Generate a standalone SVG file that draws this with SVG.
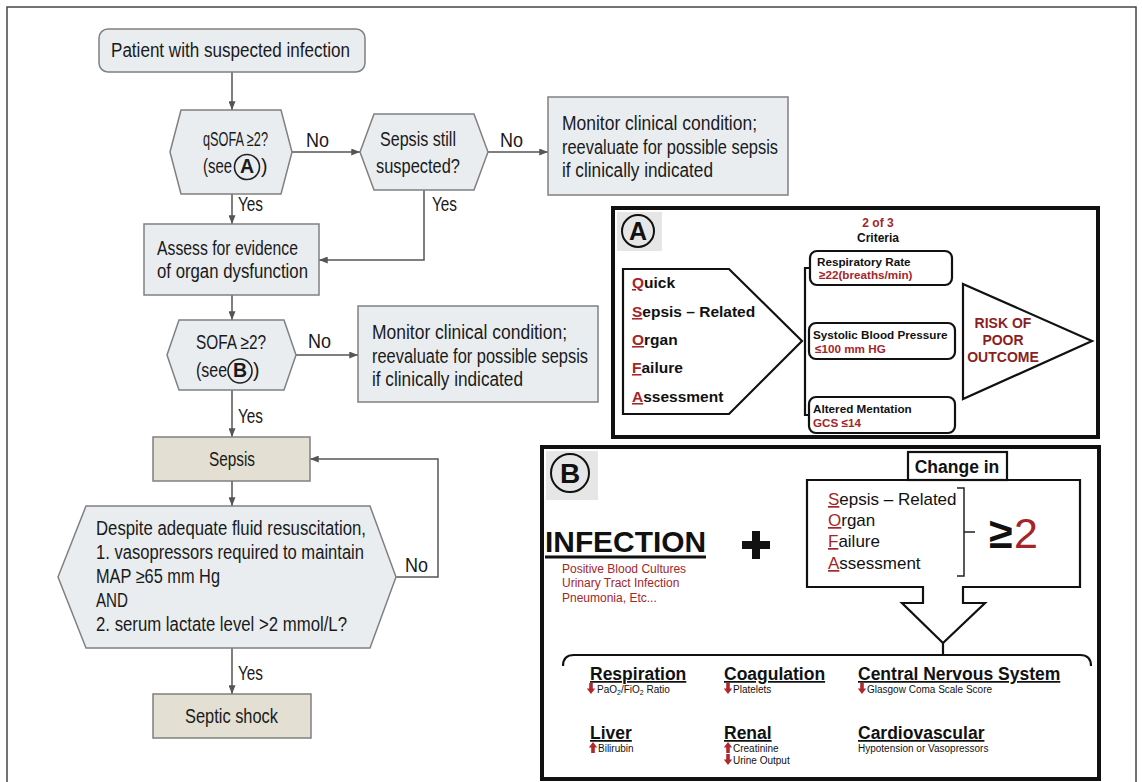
<svg xmlns="http://www.w3.org/2000/svg" xmlns:xlink="http://www.w3.org/1999/xlink" width="1142" height="782" viewBox="0 0 1142 782">
<defs>
<marker id="ah" viewBox="0 0 10 8" refX="10" refY="4" markerWidth="9" markerHeight="7" markerUnits="userSpaceOnUse" orient="auto"><path d="M0,0 L10,4 L0,8 Z" fill="#555"/></marker>
<path id="dn" d="M-1.8,-10 H1.8 V-4.5 H4.2 L0,1 L-4.2,-4.5 H-1.8 Z" fill="#b0282c"/>
<path id="up" d="M-1.8,1 H1.8 V-4.5 H4.2 L0,-10 L-4.2,-4.5 H-1.8 Z" fill="#b0282c"/>
<style>
.fbox{fill:#e9edf0;stroke:#808080;stroke-width:1.5}
.tbox{fill:#e3dfd2;stroke:#808080;stroke-width:1.5}
.ft{font-family:"Liberation Sans",Arial,sans-serif;font-size:19.5px;fill:#1a1a1a}
.lbl{font-family:"Liberation Sans",Arial,sans-serif;font-size:19.5px;fill:#1a1a1a}
.conn{fill:none;stroke:#555;stroke-width:1.5}
.pan{fill:#fff;stroke:#111;stroke-width:4}
.ln{fill:none;stroke:#111;stroke-width:2.2}
.ar{font-family:"Liberation Sans",Arial,sans-serif;fill:#111}
.b{font-weight:bold}
.red{fill:#a3262a}
.ul{text-decoration:underline}
.circ{fill:none;stroke:#222;stroke-width:1.6}
</style>
</defs>
<rect width="1142" height="782" fill="#fff"/>
<rect x="7" y="7" width="1129" height="800" fill="none" stroke="#444" stroke-width="1.5"/>

<g id="connectors">
<path class="conn" d="M232,72 V110" marker-end="url(#ah)"/>
<path class="conn" d="M292,152 H360" marker-end="url(#ah)"/>
<path class="conn" d="M488,152 H548" marker-end="url(#ah)"/>
<path class="conn" d="M232,194 V224" marker-end="url(#ah)"/>
<path class="conn" d="M424,190 V260 H319" marker-end="url(#ah)"/>
<path class="conn" d="M232,295 V320" marker-end="url(#ah)"/>
<path class="conn" d="M296,355 H358" marker-end="url(#ah)"/>
<path class="conn" d="M232,390 V437" marker-end="url(#ah)"/>
<path class="conn" d="M232,481 V506" marker-end="url(#ah)"/>
<path class="conn" d="M396,577 H438 V459 H310" marker-end="url(#ah)"/>
<path class="conn" d="M232,648 V694" marker-end="url(#ah)"/>
<text class="lbl" x="306" y="147" textLength="23" lengthAdjust="spacingAndGlyphs">No</text>
<text class="lbl" x="500" y="147" textLength="23" lengthAdjust="spacingAndGlyphs">No</text>
<text class="lbl" x="238" y="211" textLength="25" lengthAdjust="spacingAndGlyphs">Yes</text>
<text class="lbl" x="432" y="211" textLength="25" lengthAdjust="spacingAndGlyphs">Yes</text>
<text class="lbl" x="308" y="348" textLength="23" lengthAdjust="spacingAndGlyphs">No</text>
<text class="lbl" x="238" y="423" textLength="25" lengthAdjust="spacingAndGlyphs">Yes</text>
<text class="lbl" x="405" y="572" textLength="23" lengthAdjust="spacingAndGlyphs">No</text>
<text class="lbl" x="238" y="680" textLength="25" lengthAdjust="spacingAndGlyphs">Yes</text>
</g>

<g id="patient">
<rect x="99" y="29" width="266" height="43" rx="9" class="fbox"/>
<text class="ft" x="111" y="57" textLength="239" lengthAdjust="spacingAndGlyphs">Patient with suspected infection</text>
</g>

<g id="qsofa">
<polygon class="fbox" points="170,152 181,110 281,110 292,152 281,194 181,194"/>
<text class="ft" x="203" y="146" textLength="65" lengthAdjust="spacingAndGlyphs">qSOFA ≥2?</text>
<text class="ft" x="203" y="173" textLength="29" lengthAdjust="spacingAndGlyphs">(see</text>
<circle class="circ" cx="247" cy="167" r="12.5"/>
<text class="ft b" x="247" y="173" font-size="15" text-anchor="middle">A</text>
<text class="ft" x="261" y="173">)</text>
</g>

<g id="sepsis-suspected">
<polygon class="fbox" points="360,152 374,114 474,114 488,152 474,190 374,190"/>
<text class="ft" x="380" y="146" textLength="76" lengthAdjust="spacingAndGlyphs">Sepsis still</text>
<text class="ft" x="376" y="173" textLength="84" lengthAdjust="spacingAndGlyphs">suspected?</text>
</g>

<g id="monitor1">
<rect x="548" y="97" width="240" height="98" class="fbox"/>
<text class="ft" x="562" y="130" textLength="195" lengthAdjust="spacingAndGlyphs">Monitor clinical condition;</text>
<text class="ft" x="562" y="154" textLength="216" lengthAdjust="spacingAndGlyphs">reevaluate for possible sepsis</text>
<text class="ft" x="562" y="177" textLength="151" lengthAdjust="spacingAndGlyphs">if clinically indicated</text>
</g>

<g id="assess">
<rect x="144" y="224" width="175" height="71" class="fbox"/>
<text class="ft" x="157" y="255" textLength="141" lengthAdjust="spacingAndGlyphs">Assess for evidence</text>
<text class="ft" x="157" y="278" textLength="151" lengthAdjust="spacingAndGlyphs">of organ dysfunction</text>
</g>

<g id="sofa">
<polygon class="fbox" points="167,355 179,320 284,320 296,355 284,390 179,390"/>
<text class="ft" x="196" y="349" textLength="70" lengthAdjust="spacingAndGlyphs">SOFA ≥2?</text>
<text class="ft" x="196" y="377" textLength="31" lengthAdjust="spacingAndGlyphs">(see</text>
<circle class="circ" cx="240" cy="371" r="12"/>
<text class="ft b" x="240" y="377" font-size="15" text-anchor="middle">B</text>
<text class="ft" x="253" y="377">)</text>
</g>

<g id="monitor2">
<rect x="358" y="306" width="240" height="96" class="fbox"/>
<text class="ft" x="372" y="339" textLength="195" lengthAdjust="spacingAndGlyphs">Monitor clinical condition;</text>
<text class="ft" x="372" y="363" textLength="216" lengthAdjust="spacingAndGlyphs">reevaluate for possible sepsis</text>
<text class="ft" x="372" y="386" textLength="151" lengthAdjust="spacingAndGlyphs">if clinically indicated</text>
</g>

<g id="sepsis">
<rect x="153" y="437" width="157" height="44" class="tbox"/>
<text class="ft" x="209" y="466" textLength="46" lengthAdjust="spacingAndGlyphs">Sepsis</text>
</g>

<g id="shock-decision">
<polygon class="fbox" points="58,577 86,506 370,506 396,577 370,648 86,648"/>
<text class="ft" x="96" y="535" textLength="270" lengthAdjust="spacingAndGlyphs">Despite adequate fluid resuscitation,</text>
<text class="ft" x="96" y="559" textLength="268" lengthAdjust="spacingAndGlyphs">1. vasopressors required to maintain</text>
<text class="ft" x="96" y="583" textLength="124" lengthAdjust="spacingAndGlyphs">MAP ≥65 mm Hg</text>
<text class="ft" x="96" y="607" textLength="32" lengthAdjust="spacingAndGlyphs">AND</text>
<text class="ft" x="96" y="631" textLength="251" lengthAdjust="spacingAndGlyphs">2. serum lactate level &gt;2 mmol/L?</text>
</g>

<g id="septic-shock">
<rect x="153" y="694" width="158" height="44" class="tbox"/>
<text class="ft" x="185" y="723" textLength="93" lengthAdjust="spacingAndGlyphs">Septic shock</text>
</g>

<g id="panel-a">
<rect class="pan" x="613" y="208" width="485" height="229"/>
<rect x="617" y="212" width="45" height="39" fill="#e6e6e6"/>
<circle cx="638" cy="231" r="16" fill="none" stroke="#111" stroke-width="2"/>
<text class="ar b" x="638" y="240" font-size="25" text-anchor="middle">A</text>
<text class="ar b red" x="878" y="227" font-size="12" text-anchor="middle">2 of 3</text>
<text class="ar b" x="878" y="242" font-size="12" text-anchor="middle">Criteria</text>
<polygon class="ln" points="623,269 729,269 802,341 729,414 623,414"/>
<g class="ar b" font-size="15.5">
<text x="632" y="288"><tspan class="red ul">Q</tspan>uick</text>
<text x="632" y="317"><tspan class="red ul">S</tspan>epsis – Related</text>
<text x="632" y="345"><tspan class="red ul">O</tspan>rgan</text>
<text x="632" y="373"><tspan class="red ul">F</tspan>ailure</text>
<text x="632" y="402"><tspan class="red ul">A</tspan>ssessment</text>
</g>
<path class="ln" d="M810,268 H805 V415 H810"/>
<rect class="ln" x="810" y="251" width="142" height="34" rx="7"/>
<rect class="ln" x="809" y="323" width="146" height="36" rx="7"/>
<rect class="ln" x="809" y="397" width="146" height="36" rx="7"/>
<g class="ar b" font-size="11.7">
<text x="817" y="266">Respiratory Rate</text>
<text class="red" x="819" y="279">≥22(breaths/min)</text>
<text x="813" y="339">Systolic Blood Pressure</text>
<text class="red" x="815" y="353">≤100 mm HG</text>
<text x="813" y="413">Altered Mentation</text>
<text class="red" x="813" y="427">GCS ≤14</text>
</g>
<polygon class="ln" points="963,284 1092,341 963,399"/>
<g class="ar b" font-size="14" text-anchor="middle">
<text x="1003" y="328" fill="#8a1f1f">RISK OF</text>
<text x="1003" y="345" fill="#8a1f1f">POOR</text>
<text x="1003" y="362" fill="#8a1f1f">OUTCOME</text>
</g>
</g>

<g id="panel-b">
<rect class="pan" x="542" y="447" width="557" height="332"/>
<rect x="546" y="451" width="52" height="49" fill="#e6e6e6"/>
<circle cx="570" cy="473" r="19" fill="none" stroke="#111" stroke-width="2"/>
<text class="ar b" x="570" y="483" font-size="28" text-anchor="middle">B</text>
<text class="ar b" x="545" y="552" font-size="30" textLength="161" lengthAdjust="spacingAndGlyphs">INFECTION</text>
<line x1="545" y1="557" x2="706" y2="557" stroke="#111" stroke-width="3"/>
<g class="ar" font-size="12">
<text x="562" y="573" class="red">Positive Blood Cultures</text>
<text x="562" y="587" class="red">Urinary Tract Infection</text>
<text x="562" y="602" class="red">Pneumonia, Etc...</text>
</g>
<rect x="742" y="541" width="28" height="8" fill="#111"/>
<rect x="752" y="531" width="8" height="28" fill="#111"/>
<path class="ln" style="fill:#fff" d="M807,480 H1080 V587 H963 V603 H985 L943,643 L902,603 H923 V587 H807 Z"/>
<rect class="ln" style="fill:#fff" x="908" y="452" width="99" height="28"/>
<text class="ar b" x="957" y="473" font-size="17.5" text-anchor="middle">Change in</text>
<g class="ar" font-size="17">
<text x="828" y="505"><tspan class="red ul">S</tspan>epsis – Related</text>
<text x="828" y="526"><tspan class="red ul">O</tspan>rgan</text>
<text x="828" y="547"><tspan class="red ul">F</tspan>ailure</text>
<text x="828" y="569"><tspan class="red ul">A</tspan>ssessment</text>
</g>
<path d="M957,488 H964 V576 H957 M964,532 H975" fill="none" stroke="#222" stroke-width="1.5"/>
<text class="ar b" x="989" y="548" font-size="43">≥</text>
<text class="ar red" x="1014" y="548" font-size="43">2</text>
<path class="ln" d="M563,666 Q563,655 574,655 H1080 Q1091,655 1091,666 M943,643 V655"/>
<g class="ar b ul" font-size="17.5">
<text x="590" y="680">Respiration</text>
<text x="724" y="680">Coagulation</text>
<text x="858" y="680">Central Nervous System</text>
<text x="590" y="739">Liver</text>
<text x="724" y="739">Renal</text>
<text x="858" y="739">Cardiovascular</text>
</g>
<g class="ar" font-size="10">
<use xlink:href="#dn" x="591" y="693"/>
<text x="597" y="693">PaO<tspan font-size="7" dy="2">2</tspan><tspan dy="-2">/FiO</tspan><tspan font-size="7" dy="2">2</tspan><tspan dy="-2"> Ratio</tspan></text>
<use xlink:href="#dn" x="728" y="693"/>
<text x="733" y="693">Platelets</text>
<use xlink:href="#dn" x="862" y="693"/>
<text x="867" y="693">Glasgow Coma Scale Score</text>
<use xlink:href="#up" x="593" y="752"/>
<text x="598" y="752">Bilirubin</text>
<use xlink:href="#up" x="728" y="752"/>
<text x="733" y="752">Creatinine</text>
<use xlink:href="#dn" x="728" y="764"/>
<text x="733" y="764">Urine Output</text>
<text x="858" y="752">Hypotension or Vasopressors</text>
</g>
</g>
</svg>
